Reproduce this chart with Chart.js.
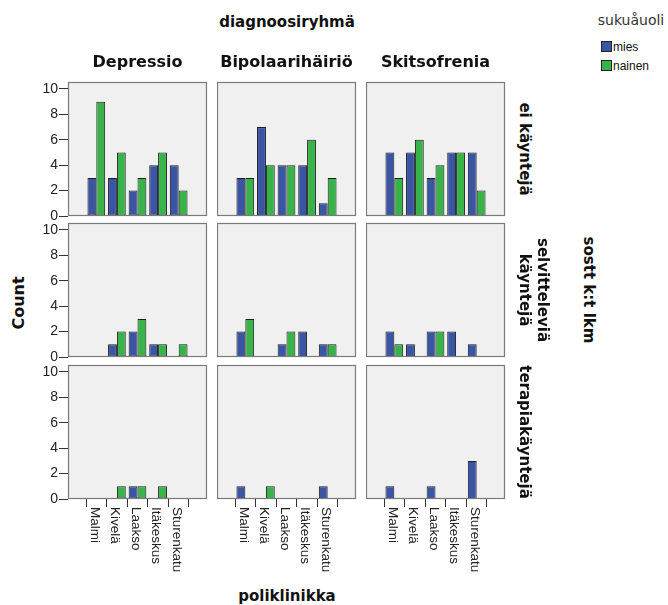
<!DOCTYPE html>
<html>
<head>
<meta charset="utf-8">
<script src="https://cdn.jsdelivr.net/npm/chart.js@4.4.1/dist/chart.umd.min.js"></script>
<style>
  body { margin: 0; background: #fff; }
  #wrap { position: relative; width: 668px; height: 605px; overflow: hidden; }
  canvas { position: absolute; }
  .t { position: absolute; white-space: nowrap; font-family: "DejaVu Sans", sans-serif; font-weight: bold; color: #111; transform: translate(-50%, -50%); text-align: center; }
  .cw { transform: translate(-50%, -50%) rotate(90deg); }
  .ccw { transform: translate(-50%, -50%) rotate(-90deg); }
  .leg { position: absolute; font-family: "Liberation Sans", Arial, sans-serif; font-size: 12px; color: #111; }
  .sw { position: absolute; width: 9px; height: 9px; border: 1px solid #222; }
</style>
</head>
<body>
<div id="wrap">
  <div class="t" style="left:287px; top:22px; font-size:15px;">diagnoosiryhmä</div>
  <div class="t" style="left:287px; top:596px; font-size:15px;">poliklinikka</div>
  <div class="t ccw" style="left:18px; top:303px; font-size:16px;">Count</div>
  <div class="t cw" style="left:589px; top:290px; font-size:15px;">sostt k:t lkm</div>
  <div class="t" style="left:631px; top:20px; font-size:14px; font-weight:normal; color:#333;">sukuåuoli</div>
  <div class="sw" style="left:601px; top:41px; background:#3b55a5;"></div>
  <div class="leg" style="left:613px; top:40px;">mies</div>
  <div class="sw" style="left:601px; top:60px; background:#38b34a;"></div>
  <div class="leg" style="left:613px; top:59px;">nainen</div>
</div>
<script>
const clinics = ['Malmi', 'Kivelä', 'Laakso', 'Itäkeskus', 'Sturenkatu'];
const diagnoses = ['Depressio', 'Bipolaarihäiriö', 'Skitsofrenia'];
const visitTypes = [['ei käyntejä'], ['selvitteleviä', 'käyntejä'], ['terapiakäyntejä']];
const yTicks = [0, 2, 4, 6, 8, 10];

// one inner array per diagnosis group, values per clinic
const eiMies = [[3, 3, 2, 4, 4], [3, 7, 4, 4, 1], [5, 5, 3, 5, 5]];
const eiNainen = [[9, 5, 3, 5, 2], [3, 4, 4, 6, 3], [3, 6, 4, 5, 2]];
const selvMies = [[0, 1, 2, 1, 0], [2, 0, 1, 2, 1], [2, 1, 2, 2, 1]];
const selvNainen = [[0, 2, 3, 1, 1], [3, 0, 2, 0, 1], [1, 0, 2, 0, 0]];
const terMies = [[0, 0, 1, 0, 0], [1, 0, 0, 0, 1], [1, 0, 1, 0, 3]];
const terNainen = [[0, 1, 1, 1, 0], [0, 1, 0, 0, 0], [0, 0, 0, 0, 0]];

const rowsMies = [eiMies, selvMies, terMies];
const rowsNainen = [eiNainen, selvNainen, terNainen];

const blue = '#3b55a5';
const green = '#38b34a';

// panel grid
const colLeft = [68, 217, 366];
const rowTop = [82, 223, 365];
const panelW = 139, panelH = 134;
const yAxisW = 40, xAxisH = 80, padTop = 12, padBottom = 12, padRight = 3;

const wrap = document.getElementById('wrap');

const panelPlugin = {
  id: 'panel',
  beforeDraw(chart) {
    const a = chart.chartArea, ctx = chart.ctx;
    ctx.save();
    ctx.fillStyle = '#f0f0f0';
    ctx.fillRect(a.left, a.top, a.right - a.left, a.bottom - a.top);
    ctx.restore();
  },
  afterDraw(chart) {
    const a = chart.chartArea, ctx = chart.ctx;
    ctx.save();
    ctx.strokeStyle = '#7a7a7a';
    ctx.lineWidth = 1.2;
    ctx.strokeRect(a.left + 0.5, a.top + 0.5, a.right - a.left - 1, a.bottom - a.top - 1);
    // clinic names, read top to bottom, for the bottom row
    if (chart.options.plugins.panel.xLabels) {
      const x = chart.scales.x;
      ctx.fillStyle = '#222';
      ctx.font = '13.5px "Liberation Sans", Arial, sans-serif';
      ctx.textBaseline = 'middle';
      ctx.textAlign = 'left';
      clinics.forEach((c, i) => {
        ctx.save();
        ctx.translate(x.getPixelForValue(i) - 2, a.bottom + 8);
        ctx.rotate(Math.PI / 2);
        ctx.fillText(c, 0, 0);
        ctx.restore();
      });
    }
    ctx.restore();
  }
};

for (let r = 0; r < 3; r++) {
  for (let c = 0; c < 3; c++) {
    const showY = c === 0;
    const showX = r === 2;
    const w = (showY ? yAxisW : 0) + panelW + padRight;
    const h = padTop + panelH + (showX ? xAxisH : padBottom);
    const cv = document.createElement('canvas');
    cv.width = w; cv.height = h;
    cv.style.left = (colLeft[c] - (showY ? yAxisW : 0)) + 'px';
    cv.style.top = (rowTop[r] - padTop) + 'px';
    cv.style.width = w + 'px'; cv.style.height = h + 'px';
    wrap.appendChild(cv);

    new Chart(cv, {
      type: 'bar',
      data: {
        datasets: [
          { label: 'mies', data: rowsMies[r][c].map((v, i) => ({ x: i, y: v })), backgroundColor: blue },
          { label: 'nainen', data: rowsNainen[r][c].map((v, i) => ({ x: i, y: v })), backgroundColor: green }
        ]
      },
      options: {
        responsive: false,
        animation: false,
        layout: { padding: { top: padTop, right: padRight, left: 0, bottom: showX ? 0 : padBottom } },
        datasets: { bar: { borderColor: '#1c1c1c', borderWidth: 1, borderSkipped: false, categoryPercentage: 0.86, barPercentage: 1 } },
        plugins: {
          legend: { display: false },
          tooltip: { enabled: false },
          panel: { xLabels: showX }
        },
        scales: {
          x: {
            type: 'linear',
            min: -0.7,
            max: 4.7,
            display: showX,
            afterBuildTicks: s => { s.ticks = clinics.map((n, i) => ({ value: i })); },
            afterFit: s => { if (showX) s.height = xAxisH; },
            ticks: { display: false },
            grid: { drawOnChartArea: false, tickLength: 8, color: '#333', lineWidth: 1 },
            border: { display: false }
          },
          y: {
            min: 0,
            max: 10.55,
            display: showY,
            afterBuildTicks: s => { s.ticks = yTicks.map(v => ({ value: v })); },
            afterFit: s => { if (showY) s.width = yAxisW; },
            ticks: { color: '#222', padding: 1, font: { family: '"Liberation Sans", Arial, sans-serif', size: 14 } },
            grid: { drawOnChartArea: false, tickLength: 9, color: '#333', lineWidth: 1 },
            border: { display: false }
          }
        }
      },
      plugins: [panelPlugin]
    });
  }
  // row label on the right, read top to bottom
  const lines = visitTypes[r];
  const d = document.createElement('div');
  d.className = 't cw';
  d.style.fontSize = '15px';
  d.style.lineHeight = '18px';
  d.style.left = (lines.length > 1 ? 534 : 525) + 'px';
  d.style.top = (rowTop[r] + panelH / 2) + 'px';
  d.innerHTML = lines.join('<br>');
  wrap.appendChild(d);
}

diagnoses.forEach((name, c) => {
  const d = document.createElement('div');
  d.className = 't';
  d.style.fontSize = '16px';
  d.style.left = (colLeft[c] + panelW / 2) + 'px';
  d.style.top = '61px';
  d.textContent = name;
  wrap.appendChild(d);
});
</script>
</body>
</html>
